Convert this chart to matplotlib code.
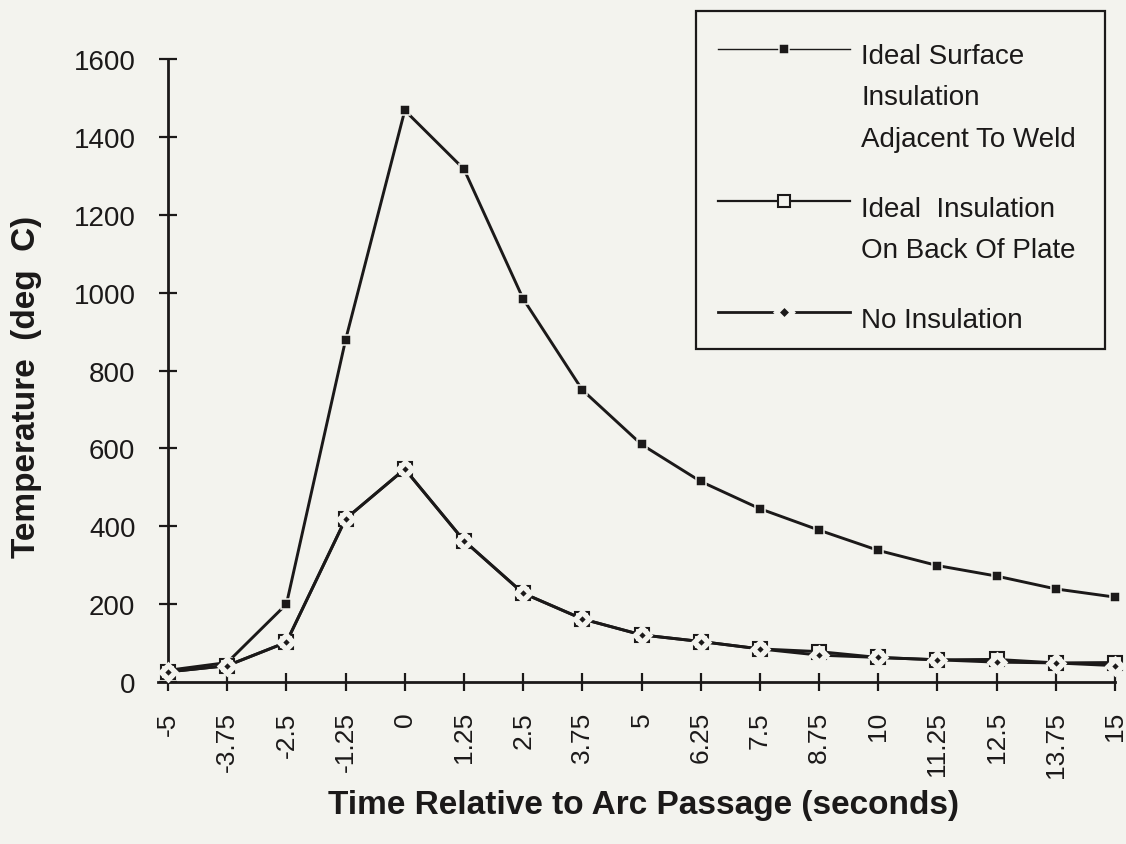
import matplotlib
matplotlib.use("Agg")
import matplotlib.pyplot as plt
from matplotlib.lines import Line2D
from matplotlib.patches import Rectangle

# ---------------- data ----------------
time_labels = ["-5", "-3.75", "-2.5", "-1.25", "0", "1.25", "2.5", "3.75", "5",
               "6.25", "7.5", "8.75", "10", "11.25", "12.5", "13.75", "15"]
ideal_surface = [30, 50, 200, 879, 1468, 1317, 984, 750, 610, 515, 445, 390,
                 338, 299, 272, 239, 218]
back_of_plate = [26, 42, 102, 419, 547, 363, 228, 162, 121, 104, 85, 78,
                 63, 57, 58, 49, 50]
no_insulation = [26, 42, 102, 419, 547, 363, 228, 162, 121, 104, 85, 69,
                 63, 57, 51, 49, 42]
y_ticks = [0, 200, 400, 600, 800, 1000, 1200, 1400, 1600]

series_names = ["Ideal Surface\nInsulation\nAdjacent To Weld",
                "Ideal  Insulation\nOn Back Of Plate",
                "No Insulation"]

# ---------------- style ----------------
W, H = 1126, 845
BG = "#f3f3ee"
INK = "#1b1919"
FONT = "Liberation Sans"
plt.rcParams["font.family"] = [FONT, "DejaVu Sans"]

fig = plt.figure(figsize=(W / 100, H / 100), dpi=100, facecolor=BG)
ax = fig.add_axes([158 / W, 1 - 683 / H, 957 / W, 623 / H], facecolor=BG)

x = list(range(len(time_labels)))

# lines first
for ys in (ideal_surface, back_of_plate, no_insulation):
    ax.plot(x, ys, color=INK, lw=2.1, zorder=2, clip_on=False,
            solid_joinstyle="miter")

# markers
ax.plot(x, ideal_surface, linestyle="none", marker="s", ms=6.9,
        mfc=INK, mec=BG, mew=1.1, zorder=3, clip_on=False)
ax.plot(x, back_of_plate, linestyle="none", marker="s", ms=9.5,
        mfc=BG, mec=INK, mew=1.5, zorder=4, clip_on=False)
ax.plot(x, no_insulation, linestyle="none", marker="D", ms=6.7,
        mfc=INK, mec=BG, mew=3.9, zorder=5, clip_on=False)

ax.set_xlim(-0.17, len(time_labels) - 1)
ax.set_ylim(0, 1600)

for s in ("top", "right"):
    ax.spines[s].set_visible(False)
ax.spines["left"].set_position(("data", 0))
for s in ("left", "bottom"):
    ax.spines[s].set_linewidth(2.0)
    ax.spines[s].set_color(INK)

ax.set_xticks(x)
ax.set_xticklabels(time_labels, rotation=90)
ax.set_yticks(y_ticks)
ax.set_yticklabels([str(v) for v in y_ticks])
ax.tick_params(axis="both", direction="inout", length=13, width=1.6,
               color=INK, labelcolor=INK)
ax.tick_params(axis="y", pad=17, labelsize=20)
ax.tick_params(axis="x", pad=14.5, labelsize=19)

ax.set_xlabel("Time Relative to Arc Passage (seconds)", fontsize=24,
              fontweight="bold", color=INK, va="center")
ax.xaxis.set_label_coords((643 - 158) / 957, (683 - 806) / 623)
ax.set_ylabel("Temperature  (deg  C)", fontsize=24, fontweight="bold",
              color=INK, va="center")
ax.yaxis.set_label_coords((27 - 158) / 957, (683 - 387) / 623)


# ---------------- legend (drawn by hand to match layout) ----------------
def fx(px):
    return px / W


def fy(py):
    return 1 - py / H


fig.add_artist(Rectangle((fx(696), fy(350)), fx(1105) - fx(696),
                         fy(12) - fy(350), transform=fig.transFigure,
                         facecolor=BG, edgecolor=INK, lw=1.6, zorder=10))

handle_y = [50, 202, 313]
text_top = [44, 197, 308]
styles = [
    dict(lw=1.0, marker="s", ms=6.9, mfc=INK, mec=BG, mew=1.1),
    dict(lw=1.6, marker="s", ms=9.0, mfc=BG, mec=INK, mew=1.5),
    dict(lw=2.0, marker="D", ms=8.1, mfc=INK, mec=BG, mew=3.6),
]
for name, hy, ty, st in zip(series_names, handle_y, text_top, styles):
    fig.add_artist(Line2D([fx(718), fx(850)], [fy(hy), fy(hy)],
                          transform=fig.transFigure, color=INK, zorder=11,
                          lw=st["lw"]))
    fig.add_artist(Line2D([fx(784)], [fy(hy)], transform=fig.transFigure,
                          linestyle="none", marker=st["marker"], ms=st["ms"],
                          mfc=st["mfc"], mec=st["mec"], mew=st["mew"],
                          zorder=12))
    fig.text(fx(861), fy(ty), name, ha="left", va="top", fontsize=20,
             color=INK, linespacing=1.77, zorder=12)

fig.savefig("out.png", dpi=100, facecolor=BG)
